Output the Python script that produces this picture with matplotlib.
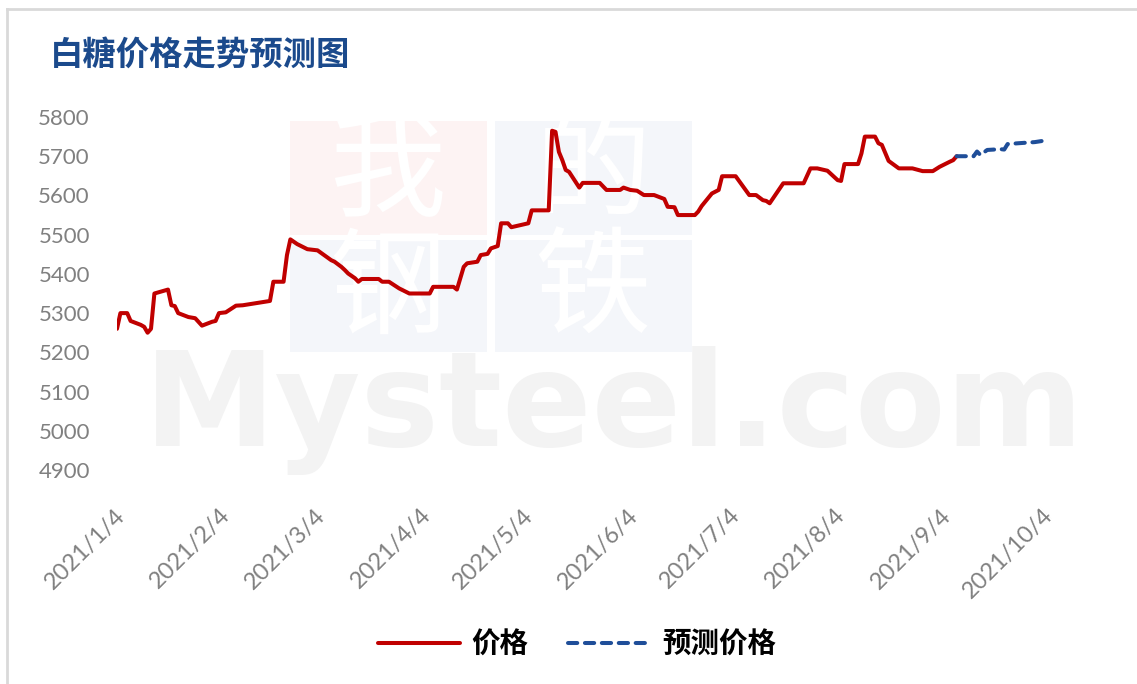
import matplotlib
matplotlib.use("Agg")
import matplotlib.pyplot as plt
import matplotlib.transforms as mtransforms
from matplotlib.patches import Rectangle
from matplotlib.lines import Line2D
import pandas as pd

plt.rcParams['font.family'] = ['Lato', 'Noto Sans CJK SC', 'DejaVu Sans']

# ---------------- data ----------------
title = "白糖价格走势预测图"
series_names = ["价格", "预测价格"]

actual_dates = [
    "2021-01-04", "2021-01-05", "2021-01-07", "2021-01-08", "2021-01-11", "2021-01-12",
    "2021-01-13", "2021-01-14", "2021-01-15", "2021-01-17", "2021-01-19", "2021-01-20",
    "2021-01-21", "2021-01-22", "2021-01-25", "2021-01-27", "2021-01-29", "2021-02-01",
    "2021-02-02", "2021-02-03", "2021-02-05", "2021-02-08", "2021-02-10", "2021-02-18",
    "2021-02-19", "2021-02-22", "2021-02-23", "2021-02-24", "2021-02-26", "2021-03-01",
    "2021-03-04", "2021-03-08", "2021-03-09", "2021-03-11", "2021-03-12", "2021-03-13",
    "2021-03-15", "2021-03-16", "2021-03-17", "2021-03-22", "2021-03-23", "2021-03-25",
    "2021-03-28", "2021-03-31", "2021-04-06", "2021-04-07", "2021-04-13", "2021-04-14",
    "2021-04-16", "2021-04-17", "2021-04-20", "2021-04-21", "2021-04-23", "2021-04-24",
    "2021-04-26", "2021-04-27", "2021-04-29", "2021-04-30", "2021-05-05", "2021-05-06",
    "2021-05-11", "2021-05-12", "2021-05-13", "2021-05-14", "2021-05-15", "2021-05-16",
    "2021-05-17", "2021-05-20", "2021-05-21", "2021-05-26", "2021-05-28", "2021-06-01",
    "2021-06-02", "2021-06-04", "2021-06-06", "2021-06-08", "2021-06-11", "2021-06-14",
    "2021-06-15", "2021-06-17", "2021-06-18", "2021-06-23", "2021-06-24", "2021-06-25",
    "2021-06-28", "2021-06-30", "2021-07-01", "2021-07-05", "2021-07-09", "2021-07-11",
    "2021-07-13", "2021-07-14", "2021-07-15", "2021-07-19", "2021-07-25", "2021-07-27",
    "2021-07-29", "2021-08-01", "2021-08-04", "2021-08-05", "2021-08-06", "2021-08-10",
    "2021-08-11", "2021-08-12", "2021-08-15", "2021-08-16", "2021-08-17", "2021-08-19",
    "2021-08-22", "2021-08-26", "2021-08-29", "2021-09-01", "2021-09-03", "2021-09-06",
    "2021-09-07", "2021-09-08",
]
actual_prices = [
    5260, 5300, 5300, 5280, 5270, 5265,
    5250, 5260, 5350, 5355, 5360, 5320,
    5318, 5300, 5290, 5287, 5268, 5278,
    5280, 5300, 5302, 5319, 5320, 5331,
    5380, 5380, 5448, 5488, 5476, 5463,
    5460, 5435, 5431, 5418, 5410, 5401,
    5389, 5380, 5387, 5387, 5380, 5380,
    5363, 5350, 5350, 5367, 5367, 5360,
    5418, 5427, 5431, 5448, 5451, 5465,
    5471, 5529, 5529, 5519, 5529, 5562,
    5562, 5765, 5762, 5711, 5690, 5665,
    5660, 5620, 5632, 5632, 5614, 5614,
    5620, 5614, 5612, 5601, 5601, 5591,
    5571, 5570, 5550, 5550, 5559, 5573,
    5605, 5614, 5649, 5649, 5601, 5601,
    5588, 5586, 5580, 5631, 5631, 5669,
    5669, 5663, 5639, 5637, 5680, 5680,
    5707, 5750, 5750, 5733, 5729, 5688,
    5669, 5669, 5662, 5662, 5673, 5686,
    5690, 5700,
]

forecast_dates = [
    "2021-09-08", "2021-09-13", "2021-09-14", "2021-09-15", "2021-09-17", "2021-09-21",
    "2021-09-22", "2021-09-23", "2021-09-26", "2021-10-01", "2021-10-04",
]
forecast_prices = [5700, 5700, 5712, 5703, 5716, 5718, 5717, 5731, 5733, 5736, 5740]

tick_dates = ["2021-01-04", "2021-02-04", "2021-03-04", "2021-04-04", "2021-05-04",
              "2021-06-04", "2021-07-04", "2021-08-04", "2021-09-04", "2021-10-04"]
tick_labels = ["2021/1/4", "2021/2/4", "2021/3/4", "2021/4/4", "2021/5/4",
               "2021/6/4", "2021/7/4", "2021/8/4", "2021/9/4", "2021/10/4"]
y_ticks = [4900, 5000, 5100, 5200, 5300, 5400, 5500, 5600, 5700, 5800]

# ---------------- figure ----------------
W, H = 1137, 684
fig = plt.figure(figsize=(W / 100, H / 100), dpi=100)
fig.patch.set_facecolor("white")

# background watermark layer (pixel coordinates)
bg = fig.add_axes([0, 0, 1, 1], zorder=-5)
bg.set_xlim(0, W)
bg.set_ylim(H, 0)
bg.axis("off")
bg.add_patch(Rectangle((290, 121), 197, 114, color="#FDF3F3", lw=0))
bg.add_patch(Rectangle((495, 121), 197, 114, color="#F4F6FA", lw=0))
bg.add_patch(Rectangle((290, 240), 197, 112, color="#F4F6FA", lw=0))
bg.add_patch(Rectangle((495, 240), 197, 112, color="#F4F6FA", lw=0))
for ch, cx, cy in [("我", 388, 174), ("的", 593, 174), ("钢", 388, 292), ("铁", 593, 292)]:
    bg.text(cx, cy, ch, color="white", fontsize=84, fontweight="medium",
            family="Noto Sans CJK SC", ha="center", va="center")
bg.text(614, 446, "Mysteel.com", color="#F3F3F3", fontsize=95, fontweight="bold",
        family="DejaVu Sans", ha="center", va="baseline")

# border (top and left)
fig.add_artist(Line2D([7 / W, 1], [1 - 9 / H, 1 - 9 / H], color="#D9D9D9", lw=2.0,
                      transform=fig.transFigure))
fig.add_artist(Line2D([7 / W, 7 / W], [0, 1 - 9 / H], color="#D9D9D9", lw=2.0,
                      transform=fig.transFigure))

# main axes
ax = fig.add_axes([117 / W, 1 - 470 / H, (1045 - 117) / W, (470 - 117) / H])
ax.set_facecolor("none")

ad = pd.to_datetime(actual_dates)
fd = pd.to_datetime(forecast_dates)
ax.plot(ad, actual_prices, color="#C00000", lw=2.9, solid_joinstyle="round",
        solid_capstyle="round", label=series_names[0], zorder=3)
ax.plot(fd, forecast_prices, color="#1F4E99", lw=2.9, linestyle=(0, (2.3, 1.9)),
        dash_capstyle="round", label=series_names[1], zorder=3)

td = pd.to_datetime(tick_dates)
ax.set_xlim(td[0], td[-1])
ax.set_ylim(y_ticks[0], y_ticks[-1])
ax.set_yticks(y_ticks)
ax.set_yticklabels([str(v) for v in y_ticks])
ax.set_xticks(td)
ax.set_xticklabels(tick_labels)

for s in ax.spines.values():
    s.set_visible(False)
ax.tick_params(axis="y", length=0, pad=19.5, labelsize=16, labelcolor="#808080")
ax.tick_params(axis="x", length=0, pad=25, labelsize=17, labelcolor="#808080")
offset = mtransforms.ScaledTranslation(-3 / 100, 0, fig.dpi_scale_trans)
for lab in ax.get_xticklabels():
    lab.set_rotation(45)
    lab.set_ha("right")
    lab.set_va("top")
    lab.set_rotation_mode("anchor")
    lab.set_transform(lab.get_transform() + offset)

# title
fig.text(50 / W, 1 - 56 / H, title, color="#1B4A8C", fontsize=24, fontweight="bold",
         family=["Noto Sans CJK SC"], ha="left", va="center")

# legend
handles, labels = ax.get_legend_handles_labels()
fig.legend(handles, labels, loc="center", bbox_to_anchor=(577 / W, 1 - 645 / H),
           ncol=2, frameon=False, handlelength=2.9, handletextpad=0.4,
           columnspacing=1.4, prop={"family": "Noto Sans CJK SC", "weight": "bold", "size": 20.5})

fig.savefig("out.png", dpi=100, facecolor="white")
